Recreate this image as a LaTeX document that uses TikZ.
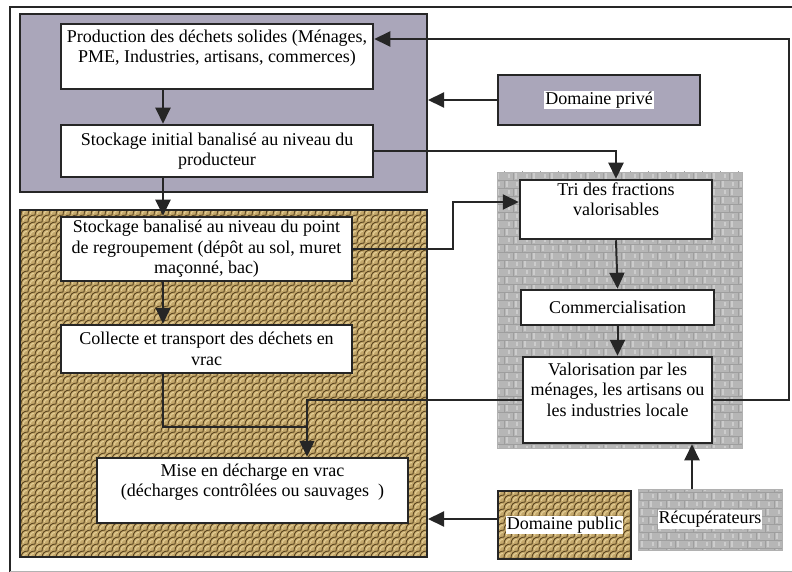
\documentclass[tikz,border=0pt]{standalone}
\usepackage{fontspec}
\setmainfont{Liberation Serif}
\usetikzlibrary{arrows.meta,patterns}

% woven "scales" texture of the public-domain zone
\pgfdeclarepatternformonly{scales}{\pgfqpoint{-1pt}{-1pt}}{\pgfqpoint{8pt}{8pt}}{\pgfqpoint{7pt}{7pt}}{%
  \pgfsetlinewidth{0.9pt}%
  \pgfsetroundcap
  \pgfpathmoveto{\pgfqpoint{0pt}{0pt}}%
  \pgfpathcurveto{\pgfqpoint{0pt}{4.5pt}}{\pgfqpoint{2.5pt}{7pt}}{\pgfqpoint{7pt}{7pt}}%
  \pgfusepath{stroke}%
}
\pgfdeclarepatternformonly{scaleglints}{\pgfqpoint{-1pt}{-1pt}}{\pgfqpoint{8pt}{8pt}}{\pgfqpoint{7pt}{7pt}}{%
  \pgfsetlinewidth{1.1pt}%
  \pgfsetroundcap
  \pgfpathmoveto{\pgfqpoint{2.5pt}{1.5pt}}%
  \pgfpathcurveto{\pgfqpoint{2.5pt}{3.5pt}}{\pgfqpoint{3.5pt}{4.5pt}}{\pgfqpoint{5.5pt}{4.5pt}}%
  \pgfusepath{stroke}%
}
% stone blocks: joints and light streaks
\pgfdeclarepatternformonly{stonejoints}{\pgfqpoint{-1pt}{-1pt}}{\pgfqpoint{19pt}{17pt}}{\pgfqpoint{18pt}{16pt}}{%
  \pgfsetlinewidth{0.5pt}%
  \pgfpathmoveto{\pgfqpoint{0pt}{0pt}}\pgfpathlineto{\pgfqpoint{18pt}{0pt}}%
  \pgfpathmoveto{\pgfqpoint{0pt}{8pt}}\pgfpathlineto{\pgfqpoint{18pt}{8pt}}%
  \pgfpathmoveto{\pgfqpoint{0pt}{0pt}}\pgfpathlineto{\pgfqpoint{0pt}{8pt}}%
  \pgfpathmoveto{\pgfqpoint{9pt}{8pt}}\pgfpathlineto{\pgfqpoint{9pt}{16pt}}%
  \pgfusepath{stroke}%
}
\pgfdeclarepatternformonly{stonestreaks}{\pgfqpoint{-1pt}{-1pt}}{\pgfqpoint{19pt}{17pt}}{\pgfqpoint{18pt}{16pt}}{%
  \pgfsetlinewidth{2.2pt}%
  \pgfpathmoveto{\pgfqpoint{3pt}{1pt}}\pgfpathlineto{\pgfqpoint{3pt}{7pt}}%
  \pgfpathmoveto{\pgfqpoint{13pt}{2pt}}\pgfpathlineto{\pgfqpoint{13pt}{6pt}}%
  \pgfpathmoveto{\pgfqpoint{5pt}{10pt}}\pgfpathlineto{\pgfqpoint{5pt}{14pt}}%
  \pgfpathmoveto{\pgfqpoint{12pt}{9pt}}\pgfpathlineto{\pgfqpoint{12pt}{15pt}}%
  \pgfusepath{stroke}%
}

\definecolor{privcol}{RGB}{170,166,186}
\definecolor{tanbase}{RGB}{196,168,108}
\definecolor{tandark}{RGB}{92,70,32}
\definecolor{tanlight}{RGB}{228,206,150}
\definecolor{stonebase}{RGB}{182,182,182}
\definecolor{stonehi}{RGB}{204,204,204}
\definecolor{stonelo}{RGB}{158,158,158}
\definecolor{inkline}{RGB}{38,38,38}

\newcommand{\whitetag}[1]{{\setlength{\fboxsep}{1pt}\colorbox{white}{#1}}}

\tikzset{
  privfill/.style={fill=privcol},
  brownfill/.style={preaction={fill=tanbase}, preaction={pattern=scaleglints, pattern color=tanlight},
                    pattern=scales, pattern color=tandark},
  stonefill/.style={preaction={fill=stonebase}, preaction={pattern=stonestreaks, pattern color=stonehi},
                    pattern=stonejoints, pattern color=stonelo},
  zone/.style={draw=inkline, line width=2pt, inner sep=0pt},
  wbox/.style={draw=inkline, line width=2.5pt, fill=white, inner sep=0pt, align=center},
  link/.style={draw=inkline, line width=2pt},
  arr/.style={link, -{Triangle[length=16pt,width=15pt]}},
}

\begin{document}
\begin{tikzpicture}[x=1pt, y=-1pt, font=\fontsize{18}{20.5}\selectfont]
\useasboundingbox (0,0) rectangle (792,572);

% outer frame
\draw[inkline, line width=2.5pt] (800,7) -- (10,7) -- (10,580);
\draw[gray!60, line width=1pt] (10,571) -- (800,571);

% zones
\node[zone, privfill, minimum width=407pt, minimum height=178pt] (privzone) at (223.5,103) {};
\node[zone, brownfill, minimum width=407pt, minimum height=347pt] (brownzone) at (223.5,383.5) {};
\node[stonefill, draw=stonelo!80, line width=0.6pt, inner sep=0pt, minimum width=245pt, minimum height=276pt] (stonezone) at (619.5,310) {};

% process boxes
\node[wbox, minimum width=312pt, minimum height=65pt] (prod) at (217,56.5)
  {Production des déchets solides (Ménages,\\PME, Industries, artisans, commerces)\\\mbox{}};
\node[wbox, minimum width=312pt, minimum height=52pt] (stock1) at (217,151)
  {Stockage initial banalisé au niveau du\\producteur};
\node[wbox, minimum width=291pt, minimum height=64pt] (stock2) at (206.5,249)
  {Stockage banalisé au niveau du point\\de regroupement (dépôt au sol, muret\\maçonné, bac)};
\node[wbox, minimum width=291pt, minimum height=48pt] (collect) at (206.5,349)
  {Collecte et transport des déchets en\\vrac};
\node[wbox, minimum width=311pt, minimum height=65pt] (mise) at (252.5,490.5)
  {Mise en décharge en vrac\\(décharges contrôlées ou sauvages~~)\\\mbox{}};
\node[wbox, minimum width=192pt, minimum height=59pt] (tri) at (616,209.5)
  {Tri des fractions\\valorisables\\\mbox{}};
\node[wbox, minimum width=193pt, minimum height=35pt] (comm) at (617.5,307.5)
  {Commercialisation};
\node[wbox, minimum width=189pt, minimum height=86pt] (valo) at (617.5,400)
  {Valorisation par les\\ménages, les artisans ou\\les industries locale\\\mbox{}};

% actors
\node[zone, privfill, line width=2.5pt, minimum width=202pt, minimum height=50pt] (dpriv) at (599,100)
  {\whitetag{Domaine privé}};
\node[zone, brownfill, line width=2.5pt, minimum width=133pt, minimum height=68pt] (dpub) at (564.5,525)
  {\whitetag{Domaine public}};
\node[stonefill, draw=stonelo!80, line width=0.6pt, inner sep=0pt, minimum width=144pt, minimum height=61pt] (recup) at (710,519.5)
  {\whitetag{Récupérateurs}};

% flows
\coordinate (colA) at (163,0);
\coordinate (jn) at (307,427);
\coordinate (fb) at (789,39);
\coordinate (kb) at (453,202);

\draw[arr] (prod.south -| colA) -- (stock1.north -| colA);
\draw[arr] (stock1.south -| colA) -- (stock2.north -| colA);
\draw[arr] (stock2.south -| colA) -- (collect.north -| colA);
\draw[link] (collect.south -| colA) |- (jn);
\draw[arr, line width=1.4pt] (valo.west) -| (mise.north -| jn);

\draw[arr] (stock1.east) -| (tri.north);
\draw[arr] (stock2.east) -| (kb) -- (kb -| tri.west);
\draw[arr] (tri.south) -- (comm.north);
\draw[arr] (comm.south) -- (valo.north);
\draw[arr] (valo.east) -| (fb) -- (fb -| prod.east);

\draw[arr] (dpriv.west) -- (dpriv.west -| privzone.east);
\draw[arr] ([yshift=6pt]dpub.west) -- ([yshift=6pt]dpub.west -| brownzone.east);
\draw[arr] ([xshift=-18pt]recup.north) -- ([xshift=-18pt]recup.north |- valo.south);
\end{tikzpicture}
\end{document}
